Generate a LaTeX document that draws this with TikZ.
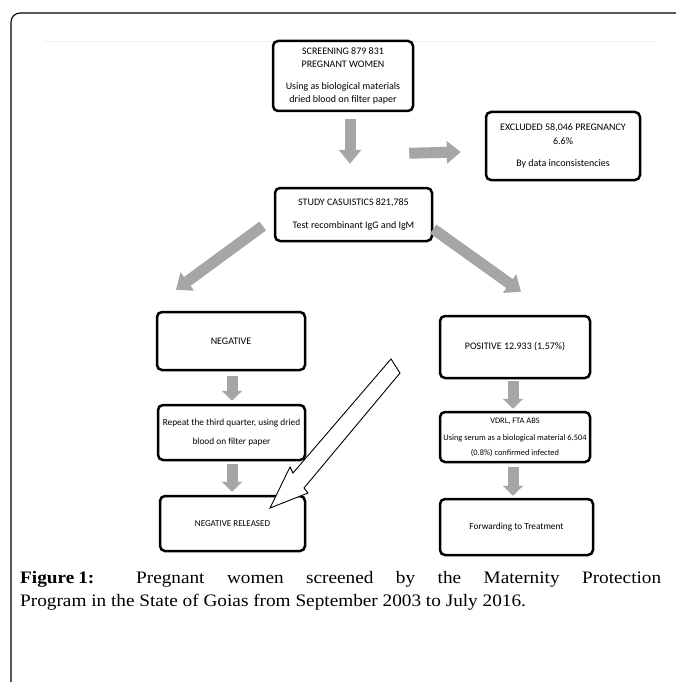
\documentclass[tikz,border=0pt]{standalone}
\usepackage{fontspec}
\setmainfont{Liberation Serif}
\newfontfamily\capfont[FakeStretch=1.1]{Liberation Serif}
\newfontfamily\boxfont{Carlito}
\usetikzlibrary{arrows.meta,calc}
\definecolor{arrgray}{RGB}{166,166,166}
\begin{document}
\begin{tikzpicture}[x=1pt,y=-1pt,
  box/.style={draw, line width=2.5pt, rounded corners=5pt, fill=white, align=center,
    font=\boxfont\fontsize{10}{13}\selectfont, inner sep=0pt},
  garrow/.style={draw=arrgray, line width=11pt, -{Triangle[length=14pt,width=22pt,fill=arrgray]}},
  sgarrow/.style={draw=arrgray, line width=11pt, -{Triangle[length=10pt,width=20pt,fill=arrgray]}},
  hollow/.style={draw=black, line width=0.9pt, fill=white, line join=miter}]
\useasboundingbox (0,0) rectangle (675,682);
\fill[white] (0,0) rectangle (675,682);
% outer frame
\draw[line width=1.1pt, rounded corners=9pt] (11,700) -- (11,13) -- (690,13);
\draw[gray!12, line width=0.6pt] (43,41) -- (655,41);

% boxes
\node[box, minimum width=140pt, minimum height=70pt] (screen) at (343,76)
  {SCREENING 879 831\\PREGNANT WOMEN\\[9pt]Using as biological materials\\dried blood on filter paper};
\node[box, minimum width=154pt, minimum height=68pt, font=\boxfont\fontsize{10}{14}\selectfont] (excl) at (563,146)
  {EXCLUDED 58,046 PREGNANCY\\6.6\%\\[8pt]By data inconsistencies};
\node[box, minimum width=157pt, minimum height=53pt] (study) at (353.5,214.5)
  {STUDY CASUISTICS 821,785\\[10pt]Test recombinant IgG and IgM};
\node[box, minimum width=148pt, minimum height=58pt] (neg) at (231,341)
  {NEGATIVE};
\node[box, minimum width=150pt, minimum height=62pt] (pos) at (515,347)
  {POSITIVE 12.933 (1.57\%)};
\node[box, minimum width=147pt, minimum height=55pt, font=\boxfont\fontsize{9.3}{13}\selectfont] (rep) at (231.5,432.5)
  {Repeat the third quarter, using dried\\[6pt]blood on filter paper};
\node[box, minimum width=150pt, minimum height=50pt, font=\boxfont\fontsize{8.4}{15}\selectfont] (vdrl) at (515,437)
  {VDRL, FTA ABS\\[2pt]Using serum as a biological material 6.504\\(0.8\%) confirmed infected};
\node[box, minimum width=145pt, minimum height=55pt, font=\boxfont\fontsize{9}{12}\selectfont] (negrel) at (232.5,523.5)
  {NEGATIVE RELEASED};
\node[box, minimum width=153pt, minimum height=56pt, font=\boxfont\fontsize{9.3}{12}\selectfont] (fwd) at (516.5,527)
  {Forwarding to Treatment};

% gray block arrows
\draw[garrow] ($(screen.south)+(7,7)$) -- ($(study.north)+(-3.5,-23)$);
\draw[garrow] ($(screen.south east)+(-5,41)$) -- ($(excl.west)+(-24,6)$);
\draw[garrow] ($(study.west)+(-11,11.5)$) -- ($(neg.north)+(-55,-21)$);
\draw[garrow] ($(study.east)+(0,14.5)$) -- ($(pos.north)+(6,-23)$);
\draw[sgarrow] ($(neg.south)+(1,5)$) -- ($(rep.north)+(0.5,-3)$);
\draw[sgarrow] ($(pos.south)+(-2,2)$) -- ($(vdrl.north)+(-2,-2)$);
\draw[sgarrow] ($(rep.south)+(0.5,3)$) -- ($(negrel.north)+(-0.5,-3)$);
\draw[sgarrow] ($(vdrl.south)+(-2,4)$) -- ($(fwd.north)+(-3.5,-2)$);

% hollow arrow
\draw[hollow] (391,359) -- (400,373) -- (304,488) -- (308,493) -- (270,508)
  -- (290,467) -- (293,473) -- cycle;

% caption
\node[anchor=north west, inner sep=0pt, text width=641pt, align=justify,
  font=\capfont\fontsize{17.5}{23}\selectfont] (cap) at (20,571)
  {\textbf{Figure\kern4pt 1:} Pregnant women screened by the Maternity Protection\linebreak
   Program in the State of Goias from September 2003 to July 2016.};
\end{tikzpicture}
\end{document}
